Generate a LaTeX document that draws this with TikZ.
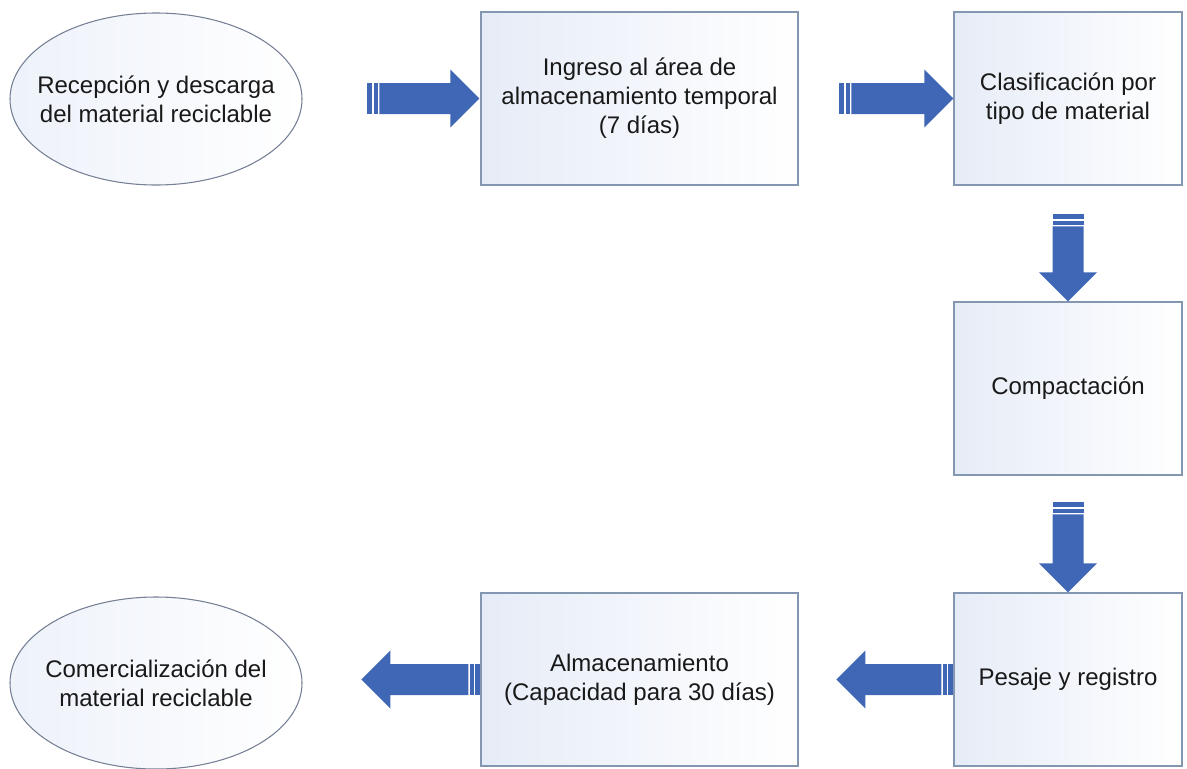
\documentclass[tikz,border=0pt]{standalone}
\usepackage{fontspec}
\setmainfont{Liberation Sans}
\usetikzlibrary{shapes.geometric,calc}

\definecolor{arrowblue}{RGB}{63,103,181}
\definecolor{boxline}{RGB}{132,151,176}
\definecolor{ellline}{RGB}{118,128,148}
\definecolor{boxtint}{RGB}{230,236,247}

\begin{document}
\begin{tikzpicture}[x=.75pt, y=-.75pt,
    txt/.style={font=\fontsize{18}{21.75}\selectfont, align=center, text=black!90},
    paso/.style={txt, draw=boxline, line width=1.1pt, left color=boxtint, right color=white, minimum height=129.75pt, inner sep=0pt},
    extremo/.style={txt, ellipse, draw=ellline, line width=.8pt, left color=boxtint!70, right color=white, minimum width=219pt, minimum height=129pt, inner xsep=-12pt, inner ysep=0pt},
    pics/blockarrow/.style={code={
        \fill[arrowblue] (0,-15.5) rectangle (5,15.5);
        \fill[arrowblue] (6.5,-15.5) rectangle (10.5,15.5);
        \fill[arrowblue] (12,-15.5) -- (#1-29,-15.5) -- (#1-29,-29) -- (#1,0)
            -- (#1-29,29) -- (#1-29,15.5) -- (12,15.5) -- cycle;
    }}]

\useasboundingbox (0,0) rectangle (1187,768);

% top row
\node[extremo] (rec) at (156,99) {Recepción y descarga\\del material reciclable};
\node[paso, minimum width=237.75pt] (ing) at (639.5,98.5) {Ingreso al área de\\almacenamiento temporal\\(7 días)};
\node[paso, minimum width=171pt] (cla) at (1068,98.5) {Clasificación por\\tipo de material};

% right column
\node[paso, minimum width=171pt] (com) at (1068,388.5) {Compactación};
\node[paso, minimum width=171pt] (pes) at (1068,679.5) {Pesaje y registro};

% bottom row
\node[paso, minimum width=237.75pt] (alm) at (639.5,679.5) {Almacenamiento\\(Capacidad para 30 días)};
\node[extremo] (cmz) at (156,683) {Comercialización del\\material reciclable};

% arrow tails
\coordinate (t1) at ($(ing.west)+(-113,0)$);
\coordinate (t2) at ($(cla.west)+(-114,0)$);
\coordinate (t3) at ($(com.north)+(0,-87)$);
\coordinate (t4) at ($(pes.north)+(0,-90)$);

\pic at (t1) {blockarrow=112};
\pic at (t2) {blockarrow=114};
\pic[rotate=-90] at (t3) {blockarrow=87};
\pic[rotate=-90] at (t4) {blockarrow=90};
\pic[rotate=180] at (pes.west) {blockarrow=117};
\pic[rotate=180] at (alm.west) {blockarrow=119};
%\draw[red] (rec) -- (ing);
\end{tikzpicture}
\end{document}
